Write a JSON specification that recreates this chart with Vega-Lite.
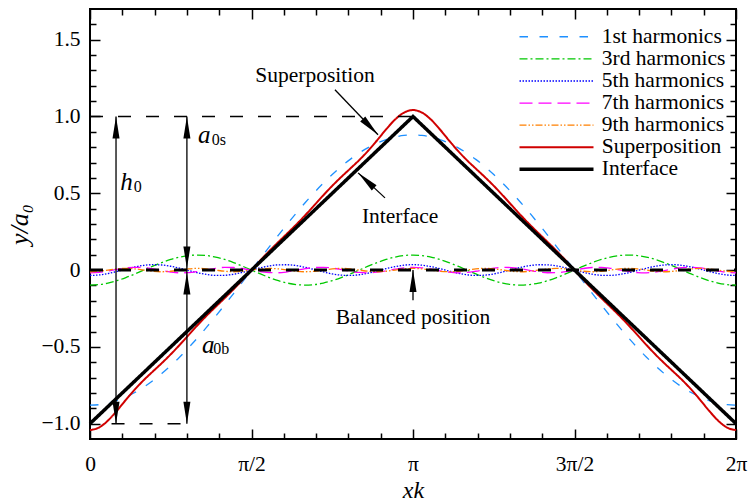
{
"$schema": "https://vega.github.io/schema/vega-lite/v6.json",
"width": 646, "height": 430,
"autosize": {"type": "none"},
"padding": {"left": 90, "top": 9, "right": 15, "bottom": 63},
"config": {"font": "Liberation Serif", "view": {"stroke": "black", "strokeWidth": 2},
"legend": {"title": null, "orient": "none", "legendX": 455.75, "legendY": 17, "symbolType": "M-4,0H4", "symbolSize": 342.25, "labelFontSize": 21.5, "labelFont": "Liberation Serif", "labelColor": "black", "rowPadding": -0.9, "labelOffset": 34.5, "padding": 0, "labelLimit": 300}},
"datasets": {
"waves": [
{"xk":0,"h1":-0.88,"h3":-0.0978,"h5":-0.0352,"h7":-0.018,"h9":-0.0109,"sup":-1.0419},
{"xk":5,"h1":-0.8767,"h3":-0.0945,"h5":-0.0319,"h7":-0.0147,"h9":-0.0077,"sup":-1.0255},
{"xk":10,"h1":-0.8666,"h3":-0.0847,"h5":-0.0226,"h7":-0.0062,"h9":0,"sup":-0.9801},
{"xk":15,"h1":-0.85,"h3":-0.0692,"h5":-0.0091,"h7":0.0047,"h9":0.0077,"sup":-0.9159},
{"xk":20,"h1":-0.8269,"h3":-0.0489,"h5":0.0061,"h7":0.0138,"h9":0.0109,"sup":-0.845},
{"xk":25,"h1":-0.7975,"h3":-0.0253,"h5":0.0202,"h7":0.0179,"h9":0.0077,"sup":-0.777},
{"xk":30,"h1":-0.7621,"h3":0,"h5":0.0305,"h7":0.0156,"h9":0,"sup":-0.716},
{"xk":35,"h1":-0.7209,"h3":0.0253,"h5":0.0351,"h7":0.0076,"h9":-0.0077,"sup":-0.6606},
{"xk":40,"h1":-0.6741,"h3":0.0489,"h5":0.0331,"h7":-0.0031,"h9":-0.0109,"sup":-0.6061},
{"xk":45,"h1":-0.6222,"h3":0.0692,"h5":0.0249,"h7":-0.0127,"h9":-0.0077,"sup":-0.5485},
{"xk":50,"h1":-0.5657,"h3":0.0847,"h5":0.012,"h7":-0.0177,"h9":0,"sup":-0.4867},
{"xk":55,"h1":-0.5048,"h3":0.0945,"h5":-0.0031,"h7":-0.0163,"h9":0.0077,"sup":-0.422},
{"xk":60,"h1":-0.44,"h3":0.0978,"h5":-0.0176,"h7":-0.009,"h9":0.0109,"sup":-0.3579},
{"xk":65,"h1":-0.3719,"h3":0.0945,"h5":-0.0288,"h7":0.0016,"h9":0.0077,"sup":-0.2969},
{"xk":70,"h1":-0.301,"h3":0.0847,"h5":-0.0347,"h7":0.0116,"h9":0,"sup":-0.2394},
{"xk":75,"h1":-0.2277,"h3":0.0692,"h5":-0.034,"h7":0.0174,"h9":-0.0077,"sup":-0.1828},
{"xk":80,"h1":-0.1528,"h3":0.0489,"h5":-0.027,"h7":0.0169,"h9":-0.0109,"sup":-0.1249},
{"xk":85,"h1":-0.0767,"h3":0.0253,"h5":-0.0149,"h7":0.0103,"h9":-0.0077,"sup":-0.0637},
{"xk":90,"h1":0,"h3":0,"h5":0,"h7":0,"h9":0,"sup":0},
{"xk":95,"h1":0.0767,"h3":-0.0253,"h5":0.0149,"h7":-0.0103,"h9":0.0077,"sup":0.0637},
{"xk":100,"h1":0.1528,"h3":-0.0489,"h5":0.027,"h7":-0.0169,"h9":0.0109,"sup":0.1249},
{"xk":105,"h1":0.2277,"h3":-0.0692,"h5":0.034,"h7":-0.0174,"h9":0.0077,"sup":0.1828},
{"xk":110,"h1":0.301,"h3":-0.0847,"h5":0.0347,"h7":-0.0116,"h9":0,"sup":0.2394},
{"xk":115,"h1":0.3719,"h3":-0.0945,"h5":0.0288,"h7":-0.0016,"h9":-0.0077,"sup":0.2969},
{"xk":120,"h1":0.44,"h3":-0.0978,"h5":0.0176,"h7":0.009,"h9":-0.0109,"sup":0.3579},
{"xk":125,"h1":0.5048,"h3":-0.0945,"h5":0.0031,"h7":0.0163,"h9":-0.0077,"sup":0.422},
{"xk":130,"h1":0.5657,"h3":-0.0847,"h5":-0.012,"h7":0.0177,"h9":0,"sup":0.4867},
{"xk":135,"h1":0.6222,"h3":-0.0692,"h5":-0.0249,"h7":0.0127,"h9":0.0077,"sup":0.5485},
{"xk":140,"h1":0.6741,"h3":-0.0489,"h5":-0.0331,"h7":0.0031,"h9":0.0109,"sup":0.6061},
{"xk":145,"h1":0.7209,"h3":-0.0253,"h5":-0.0351,"h7":-0.0076,"h9":0.0077,"sup":0.6606},
{"xk":150,"h1":0.7621,"h3":0,"h5":-0.0305,"h7":-0.0156,"h9":0,"sup":0.716},
{"xk":155,"h1":0.7975,"h3":0.0253,"h5":-0.0202,"h7":-0.0179,"h9":-0.0077,"sup":0.777},
{"xk":160,"h1":0.8269,"h3":0.0489,"h5":-0.0061,"h7":-0.0138,"h9":-0.0109,"sup":0.845},
{"xk":165,"h1":0.85,"h3":0.0692,"h5":0.0091,"h7":-0.0047,"h9":-0.0077,"sup":0.9159},
{"xk":170,"h1":0.8666,"h3":0.0847,"h5":0.0226,"h7":0.0062,"h9":0,"sup":0.9801},
{"xk":175,"h1":0.8767,"h3":0.0945,"h5":0.0319,"h7":0.0147,"h9":0.0077,"sup":1.0255},
{"xk":180,"h1":0.88,"h3":0.0978,"h5":0.0352,"h7":0.018,"h9":0.0109,"sup":1.0419},
{"xk":185,"h1":0.8767,"h3":0.0945,"h5":0.0319,"h7":0.0147,"h9":0.0077,"sup":1.0255},
{"xk":190,"h1":0.8666,"h3":0.0847,"h5":0.0226,"h7":0.0062,"h9":0,"sup":0.9801},
{"xk":195,"h1":0.85,"h3":0.0692,"h5":0.0091,"h7":-0.0047,"h9":-0.0077,"sup":0.9159},
{"xk":200,"h1":0.8269,"h3":0.0489,"h5":-0.0061,"h7":-0.0138,"h9":-0.0109,"sup":0.845},
{"xk":205,"h1":0.7975,"h3":0.0253,"h5":-0.0202,"h7":-0.0179,"h9":-0.0077,"sup":0.777},
{"xk":210,"h1":0.7621,"h3":0,"h5":-0.0305,"h7":-0.0156,"h9":0,"sup":0.716},
{"xk":215,"h1":0.7209,"h3":-0.0253,"h5":-0.0351,"h7":-0.0076,"h9":0.0077,"sup":0.6606},
{"xk":220,"h1":0.6741,"h3":-0.0489,"h5":-0.0331,"h7":0.0031,"h9":0.0109,"sup":0.6061},
{"xk":225,"h1":0.6222,"h3":-0.0692,"h5":-0.0249,"h7":0.0127,"h9":0.0077,"sup":0.5485},
{"xk":230,"h1":0.5657,"h3":-0.0847,"h5":-0.012,"h7":0.0177,"h9":0,"sup":0.4867},
{"xk":235,"h1":0.5048,"h3":-0.0945,"h5":0.0031,"h7":0.0163,"h9":-0.0077,"sup":0.422},
{"xk":240,"h1":0.44,"h3":-0.0978,"h5":0.0176,"h7":0.009,"h9":-0.0109,"sup":0.3579},
{"xk":245,"h1":0.3719,"h3":-0.0945,"h5":0.0288,"h7":-0.0016,"h9":-0.0077,"sup":0.2969},
{"xk":250,"h1":0.301,"h3":-0.0847,"h5":0.0347,"h7":-0.0116,"h9":0,"sup":0.2394},
{"xk":255,"h1":0.2277,"h3":-0.0692,"h5":0.034,"h7":-0.0174,"h9":0.0077,"sup":0.1828},
{"xk":260,"h1":0.1528,"h3":-0.0489,"h5":0.027,"h7":-0.0169,"h9":0.0109,"sup":0.1249},
{"xk":265,"h1":0.0767,"h3":-0.0253,"h5":0.0149,"h7":-0.0103,"h9":0.0077,"sup":0.0637},
{"xk":270,"h1":0,"h3":0,"h5":0,"h7":0,"h9":0,"sup":0},
{"xk":275,"h1":-0.0767,"h3":0.0253,"h5":-0.0149,"h7":0.0103,"h9":-0.0077,"sup":-0.0637},
{"xk":280,"h1":-0.1528,"h3":0.0489,"h5":-0.027,"h7":0.0169,"h9":-0.0109,"sup":-0.1249},
{"xk":285,"h1":-0.2277,"h3":0.0692,"h5":-0.034,"h7":0.0174,"h9":-0.0077,"sup":-0.1828},
{"xk":290,"h1":-0.301,"h3":0.0847,"h5":-0.0347,"h7":0.0116,"h9":0,"sup":-0.2394},
{"xk":295,"h1":-0.3719,"h3":0.0945,"h5":-0.0288,"h7":0.0016,"h9":0.0077,"sup":-0.2969},
{"xk":300,"h1":-0.44,"h3":0.0978,"h5":-0.0176,"h7":-0.009,"h9":0.0109,"sup":-0.3579},
{"xk":305,"h1":-0.5048,"h3":0.0945,"h5":-0.0031,"h7":-0.0163,"h9":0.0077,"sup":-0.422},
{"xk":310,"h1":-0.5657,"h3":0.0847,"h5":0.012,"h7":-0.0177,"h9":0,"sup":-0.4867},
{"xk":315,"h1":-0.6222,"h3":0.0692,"h5":0.0249,"h7":-0.0127,"h9":-0.0077,"sup":-0.5485},
{"xk":320,"h1":-0.6741,"h3":0.0489,"h5":0.0331,"h7":-0.0031,"h9":-0.0109,"sup":-0.6061},
{"xk":325,"h1":-0.7209,"h3":0.0253,"h5":0.0351,"h7":0.0076,"h9":-0.0077,"sup":-0.6606},
{"xk":330,"h1":-0.7621,"h3":0,"h5":0.0305,"h7":0.0156,"h9":0,"sup":-0.716},
{"xk":335,"h1":-0.7975,"h3":-0.0253,"h5":0.0202,"h7":0.0179,"h9":0.0077,"sup":-0.777},
{"xk":340,"h1":-0.8269,"h3":-0.0489,"h5":0.0061,"h7":0.0138,"h9":0.0109,"sup":-0.845},
{"xk":345,"h1":-0.85,"h3":-0.0692,"h5":-0.0091,"h7":0.0047,"h9":0.0077,"sup":-0.9159},
{"xk":350,"h1":-0.8666,"h3":-0.0847,"h5":-0.0226,"h7":-0.0062,"h9":0,"sup":-0.9801},
{"xk":355,"h1":-0.8767,"h3":-0.0945,"h5":-0.0319,"h7":-0.0147,"h9":-0.0077,"sup":-1.0255},
{"xk":360,"h1":-0.88,"h3":-0.0978,"h5":-0.0352,"h7":-0.018,"h9":-0.0109,"sup":-1.0419}
],
"interface": [{"xk":0,"y":-1,"series":"iface"},{"xk":180,"y":1,"series":"iface"},{"xk":360,"y":-1,"series":"iface"}],
"thinDash": [{"xk":0,"xk2":180,"y":1},{"xk":12,"xk2":57,"y":-1}],
"thickDash": [{"xk":0,"xk2":360,"y":0}],
"shafts": [{"xk":14.5,"y":-1,"xk2":14.5,"y2":1},{"xk":54,"y":0,"xk2":54,"y2":1},{"xk":54,"y":-1,"xk2":54,"y2":0},{"xk":136.5,"y":1.174,"xk2":160.5,"y2":0.881},{"xk":164.4,"y":0.47,"xk2":149.4,"y2":0.633},{"xk":180,"y":-0.196,"xk2":180,"y2":0}],
"headsUp": [{"xk":14.5,"y":1},{"xk":54,"y":1},{"xk":54,"y":-0.015},{"xk":180,"y":0}],
"headsDown": [{"xk":14.5,"y":-1},{"xk":54,"y":0.011},{"xk":54,"y":-1}],
"headSup": [{"xk":160.5,"y":0.881}],
"headIface": [{"xk":149.4,"y":0.633}],
"labels": [{"xk":125.4,"y":1.266,"text":"Superposition"},{"xk":172.8,"y":0.346,"text":"Interface"},{"xk":180,"y":-0.313,"text":"Balanced position"}],
"symbols": [{"xk":20.4,"y":0.576,"text":"h"},{"xk":63.7,"y":0.881,"text":"a"},{"xk":65.9,"y":-0.485,"text":"a"}],
"subs": [{"xk":26.6,"y":0.539,"text":"0"},{"xk":71.8,"y":0.848,"text":"0s"},{"xk":73.2,"y":-0.511,"text":"0b"}]
},
"layer": [
{
"data": {"name": "waves"},
"transform": [{"fold": ["h1","h3","h5","h7","h9"], "as": ["series","y"]}],
"mark": {"type": "line", "interpolate": "monotone", "strokeWidth": 1.3},
"encoding": {
"x": {"field": "xk", "type": "quantitative", "scale": {"domain": [0,360], "nice": false, "zero": false},
 "axis": {"orient": "bottom", "values": [0,18,36,54,72,90,108,126,144,162,180,198,216,234,252,270,288,306,324,342,360],
 "labelExpr": "datum.value == 0 ? '0' : datum.value == 90 ? 'π/2' : datum.value == 180 ? 'π' : datum.value == 270 ? '3π/2' : datum.value == 360 ? '2π' : ''",
 "domain": false, "grid": false,
 "tickSize": {"condition": {"test": "datum.value % 90 === 0", "value": -10}, "value": -6},
 "tickColor": "black", "tickWidth": 1.5, "labelPadding": 24, "labelFont": "Liberation Serif", "labelFontSize": 21.5, "labelColor": "black",
 "labelFlush": false, "labelOverlap": false, "labelBound": false,
 "title": "xk", "titleFont": "Liberation Serif", "titleFontSize": 24, "titleFontStyle": "italic", "titleFontWeight": "normal", "titleColor": "black", "titlePadding": 0}},
"y": {"field": "y", "type": "quantitative", "scale": {"domain": [-1.1,1.7], "nice": false, "zero": false},
 "axis": {"orient": "left", "values": [-1,-0.9,-0.8,-0.7,-0.6,-0.5,-0.4,-0.3,-0.2,-0.1,0,0.1,0.2,0.3,0.4,0.5,0.6,0.7,0.8,0.9,1,1.1,1.2,1.3,1.4,1.5,1.6],
 "labelExpr": "abs(datum.value*2 - round(datum.value*2)) < 0.000001 ? (abs(datum.value) < 0.000001 ? '0' : format(datum.value, '.1f')) : ''",
 "domain": false, "grid": false,
 "tickSize": {"condition": {"test": "abs(datum.value*2 - round(datum.value*2)) < 0.000001", "value": -10}, "value": -6},
 "tickColor": "black", "tickWidth": 1.5, "labelPadding": 20, "labelFont": "Liberation Serif", "labelFontSize": 21.5, "labelColor": "black",
 "labelFlush": false, "labelOverlap": false, "labelBound": false,
 "title": "y/a₀", "titleFont": "Liberation Serif", "titleFontSize": 26, "titleFontStyle": "italic", "titleFontWeight": "normal", "titleColor": "black", "titlePadding": 8}},
"color": {"field": "series", "type": "nominal",
 "scale": {"domain": ["h1","h3","h5","h7","h9","sup","iface"], "range": ["#1e90ff","#00c800","#0000ff","#ff00ff","#ff8000","#d00000","#000000"]},
 "legend": {"labelExpr": "datum.label == 'h1' ? '1st harmonics' : datum.label == 'h3' ? '3rd harmonics' : datum.label == 'h5' ? '5th harmonics' : datum.label == 'h7' ? '7th harmonics' : datum.label == 'h9' ? '9th harmonics' : datum.label == 'sup' ? 'Superposition' : 'Interface'",
 "encode": {"symbols": {"update": {"strokeWidth": {"signal": "datum.value === 'iface' ? 3.5 : datum.value === 'sup' ? 2 : datum.value === 'h5' ? 1.6 : 1.3"}}}}}},
"strokeDash": {"field": "series", "type": "nominal",
 "scale": {"domain": ["h1","h3","h5","h7","h9","sup","iface"], "range": [[8.5,11.5],[8,3,2,3],[1.5,1.5],[13,6],[7,2,1.5,2,1.5,2],[1,0],[1,0]]},
 "legend": {"labelExpr": "datum.label == 'h1' ? '1st harmonics' : datum.label == 'h3' ? '3rd harmonics' : datum.label == 'h5' ? '5th harmonics' : datum.label == 'h7' ? '7th harmonics' : datum.label == 'h9' ? '9th harmonics' : datum.label == 'sup' ? 'Superposition' : 'Interface'",
 "encode": {"symbols": {"update": {"strokeWidth": {"signal": "datum.value === 'iface' ? 3.5 : datum.value === 'sup' ? 2 : datum.value === 'h5' ? 1.6 : 1.3"}}}}}}
}
},
{
"data": {"name": "waves"},
"transform": [{"fold": ["sup"], "as": ["series","y"]}],
"mark": {"type": "line", "interpolate": "monotone", "strokeWidth": 2},
"encoding": {
"x": {"field": "xk", "type": "quantitative", "scale": {"domain": [0,360], "nice": false, "zero": false}, "axis": null},
"y": {"field": "y", "type": "quantitative", "scale": {"domain": [-1.1,1.7], "nice": false, "zero": false}, "axis": null},
"color": {"field": "series", "type": "nominal",
 "scale": {"domain": ["h1","h3","h5","h7","h9","sup","iface"], "range": ["#1e90ff","#00c800","#0000ff","#ff00ff","#ff8000","#d00000","#000000"]},
 "legend": {"labelExpr": "datum.label == 'h1' ? '1st harmonics' : datum.label == 'h3' ? '3rd harmonics' : datum.label == 'h5' ? '5th harmonics' : datum.label == 'h7' ? '7th harmonics' : datum.label == 'h9' ? '9th harmonics' : datum.label == 'sup' ? 'Superposition' : 'Interface'",
 "encode": {"symbols": {"update": {"strokeWidth": {"signal": "datum.value === 'iface' ? 3.5 : datum.value === 'sup' ? 2 : datum.value === 'h5' ? 1.6 : 1.3"}}}}}},
"strokeDash": {"field": "series", "type": "nominal",
 "scale": {"domain": ["h1","h3","h5","h7","h9","sup","iface"], "range": [[8.5,11.5],[8,3,2,3],[1.5,1.5],[13,6],[7,2,1.5,2,1.5,2],[1,0],[1,0]]},
 "legend": {"labelExpr": "datum.label == 'h1' ? '1st harmonics' : datum.label == 'h3' ? '3rd harmonics' : datum.label == 'h5' ? '5th harmonics' : datum.label == 'h7' ? '7th harmonics' : datum.label == 'h9' ? '9th harmonics' : datum.label == 'sup' ? 'Superposition' : 'Interface'",
 "encode": {"symbols": {"update": {"strokeWidth": {"signal": "datum.value === 'iface' ? 3.5 : datum.value === 'sup' ? 2 : datum.value === 'h5' ? 1.6 : 1.3"}}}}}}
}
},
{
"data": {"name": "interface"},
"mark": {"type": "line", "strokeWidth": 3.5},
"encoding": {
"x": {"field": "xk", "type": "quantitative", "scale": {"domain": [0,360], "nice": false, "zero": false},
 "axis": {"orient": "top", "values": [0,18,36,54,72,90,108,126,144,162,180,198,216,234,252,270,288,306,324,342,360], "labels": false, "domain": false, "grid": false, "title": null,
 "tickSize": {"condition": {"test": "datum.value % 90 === 0", "value": -10}, "value": -6}, "tickColor": "black", "tickWidth": 1.5}},
"y": {"field": "y", "type": "quantitative", "scale": {"domain": [-1.1,1.7], "nice": false, "zero": false},
 "axis": {"orient": "right", "values": [-1,-0.9,-0.8,-0.7,-0.6,-0.5,-0.4,-0.3,-0.2,-0.1,0,0.1,0.2,0.3,0.4,0.5,0.6,0.7,0.8,0.9,1,1.1,1.2,1.3,1.4,1.5,1.6], "labels": false, "domain": false, "grid": false, "title": null,
 "tickSize": {"condition": {"test": "abs(datum.value*2 - round(datum.value*2)) < 0.000001", "value": -10}, "value": -6}, "tickColor": "black", "tickWidth": 1.5}},
"color": {"field": "series", "type": "nominal",
 "scale": {"domain": ["h1","h3","h5","h7","h9","sup","iface"], "range": ["#1e90ff","#00c800","#0000ff","#ff00ff","#ff8000","#d00000","#000000"]},
 "legend": {"labelExpr": "datum.label == 'h1' ? '1st harmonics' : datum.label == 'h3' ? '3rd harmonics' : datum.label == 'h5' ? '5th harmonics' : datum.label == 'h7' ? '7th harmonics' : datum.label == 'h9' ? '9th harmonics' : datum.label == 'sup' ? 'Superposition' : 'Interface'",
 "encode": {"symbols": {"update": {"strokeWidth": {"signal": "datum.value === 'iface' ? 3.5 : datum.value === 'sup' ? 2 : datum.value === 'h5' ? 1.6 : 1.3"}}}}}},
"strokeDash": {"field": "series", "type": "nominal",
 "scale": {"domain": ["h1","h3","h5","h7","h9","sup","iface"], "range": [[8.5,11.5],[8,3,2,3],[1.5,1.5],[13,6],[7,2,1.5,2,1.5,2],[1,0],[1,0]]},
 "legend": {"labelExpr": "datum.label == 'h1' ? '1st harmonics' : datum.label == 'h3' ? '3rd harmonics' : datum.label == 'h5' ? '5th harmonics' : datum.label == 'h7' ? '7th harmonics' : datum.label == 'h9' ? '9th harmonics' : datum.label == 'sup' ? 'Superposition' : 'Interface'",
 "encode": {"symbols": {"update": {"strokeWidth": {"signal": "datum.value === 'iface' ? 3.5 : datum.value === 'sup' ? 2 : datum.value === 'h5' ? 1.6 : 1.3"}}}}}}
}
},
{
"data": {"name": "thickDash"},
"mark": {"type": "rule", "color": "black", "strokeWidth": 3, "strokeDash": [13,15]},
"encoding": {
"x": {"field": "xk", "type": "quantitative", "scale": {"domain": [0,360]}, "axis": null},
"x2": {"field": "xk2"},
"y": {"field": "y", "type": "quantitative", "scale": {"domain": [-1.1,1.7]}, "axis": null}
}
},
{
"data": {"name": "thinDash"},
"mark": {"type": "rule", "color": "black", "strokeWidth": 1.5, "strokeDash": [13,15]},
"encoding": {
"x": {"field": "xk", "type": "quantitative", "scale": {"domain": [0,360]}, "axis": null},
"x2": {"field": "xk2"},
"y": {"field": "y", "type": "quantitative", "scale": {"domain": [-1.1,1.7]}, "axis": null}
}
},
{
"data": {"name": "shafts"},
"mark": {"type": "rule", "color": "black", "strokeWidth": 1.3},
"encoding": {
"x": {"field": "xk", "type": "quantitative", "scale": {"domain": [0,360]}, "axis": null},
"x2": {"field": "xk2"},
"y": {"field": "y", "type": "quantitative", "scale": {"domain": [-1.1,1.7]}, "axis": null},
"y2": {"field": "y2"}
}
},
{
"data": {"name": "headsUp"},
"mark": {"type": "point", "shape": "M0,0L-0.32,2L0.32,2Z", "size": 484, "filled": true, "color": "black", "opacity": 1, "strokeWidth": 0, "angle": 0},
"encoding": {
"x": {"field": "xk", "type": "quantitative", "scale": {"domain": [0,360]}, "axis": null},
"y": {"field": "y", "type": "quantitative", "scale": {"domain": [-1.1,1.7]}, "axis": null}
}
},
{
"data": {"name": "headsDown"},
"mark": {"type": "point", "shape": "M0,0L-0.32,2L0.32,2Z", "size": 484, "filled": true, "color": "black", "opacity": 1, "strokeWidth": 0, "angle": 180},
"encoding": {
"x": {"field": "xk", "type": "quantitative", "scale": {"domain": [0,360]}, "axis": null},
"y": {"field": "y", "type": "quantitative", "scale": {"domain": [-1.1,1.7]}, "axis": null}
}
},
{
"data": {"name": "headSup"},
"mark": {"type": "point", "shape": "M0,0L-0.32,2L0.32,2Z", "size": 484, "filled": true, "color": "black", "opacity": 1, "strokeWidth": 0, "angle": 136},
"encoding": {
"x": {"field": "xk", "type": "quantitative", "scale": {"domain": [0,360]}, "axis": null},
"y": {"field": "y", "type": "quantitative", "scale": {"domain": [-1.1,1.7]}, "axis": null}
}
},
{
"data": {"name": "headIface"},
"mark": {"type": "point", "shape": "M0,0L-0.32,2L0.32,2Z", "size": 484, "filled": true, "color": "black", "opacity": 1, "strokeWidth": 0, "angle": 313},
"encoding": {
"x": {"field": "xk", "type": "quantitative", "scale": {"domain": [0,360]}, "axis": null},
"y": {"field": "y", "type": "quantitative", "scale": {"domain": [-1.1,1.7]}, "axis": null}
}
},
{
"data": {"name": "labels"},
"mark": {"type": "text", "font": "Liberation Serif", "fontSize": 21.5, "color": "black", "align": "center", "baseline": "middle"},
"encoding": {
"x": {"field": "xk", "type": "quantitative", "scale": {"domain": [0,360]}, "axis": null},
"y": {"field": "y", "type": "quantitative", "scale": {"domain": [-1.1,1.7]}, "axis": null},
"text": {"field": "text"}
}
},
{
"data": {"name": "symbols"},
"mark": {"type": "text", "font": "Liberation Serif", "fontSize": 25, "fontStyle": "italic", "color": "black", "align": "center", "baseline": "middle"},
"encoding": {
"x": {"field": "xk", "type": "quantitative", "scale": {"domain": [0,360]}, "axis": null},
"y": {"field": "y", "type": "quantitative", "scale": {"domain": [-1.1,1.7]}, "axis": null},
"text": {"field": "text"}
}
},
{
"data": {"name": "subs"},
"mark": {"type": "text", "font": "Liberation Serif", "fontSize": 16, "color": "black", "align": "center", "baseline": "middle"},
"encoding": {
"x": {"field": "xk", "type": "quantitative", "scale": {"domain": [0,360]}, "axis": null},
"y": {"field": "y", "type": "quantitative", "scale": {"domain": [-1.1,1.7]}, "axis": null},
"text": {"field": "text"}
}
}
],
"resolve": {"axis": {"x": "independent", "y": "independent"}}
}
